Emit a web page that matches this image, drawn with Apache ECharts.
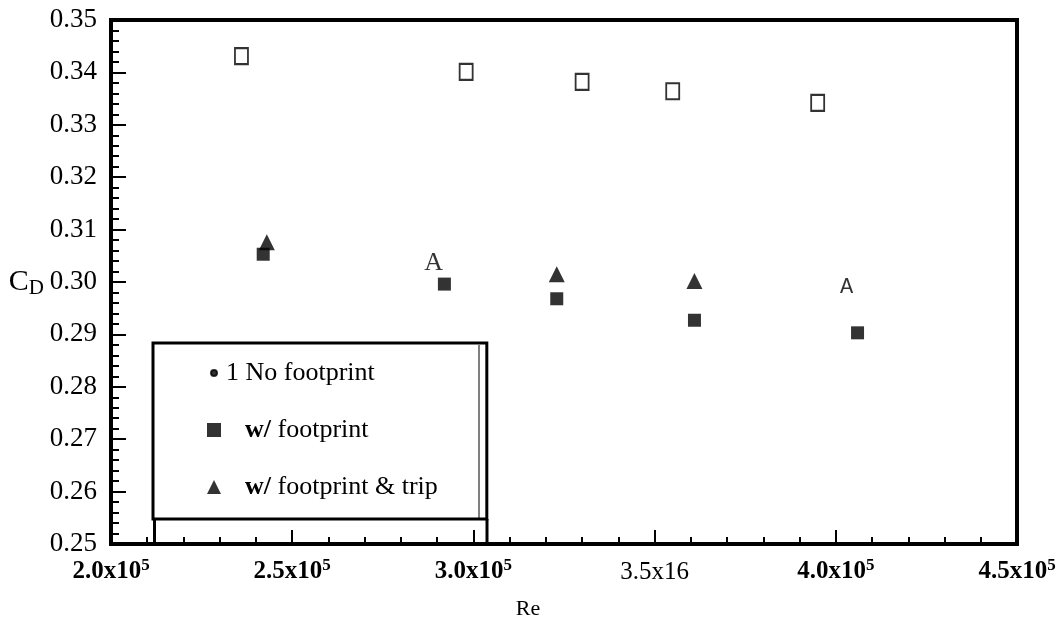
<!DOCTYPE html>
<html>
<head>
<meta charset="utf-8">
<script src="https://cdn.jsdelivr.net/npm/echarts@6/dist/echarts.min.js"></script>
<style>
  html, body { margin: 0; padding: 0; background: #fff; }
  #chart { width: 1060px; height: 641px; }
</style>
</head>
<body>
<div id="chart"></div>
<script>
const seriesNames = ['1 No footprint', 'w/ footprint', 'w/ footprint & trip']

// Re / C_D
const noFootRe = [2.36e5, 2.98e5, 3.30e5, 3.55e5, 3.95e5]
const noFootCd = [0.3431, 0.3401, 0.3382, 0.3364, 0.3342]
const footRe = [2.42e5, 2.92e5, 3.23e5, 3.61e5, 4.06e5]
const footCd = [0.3053, 0.2996, 0.2968, 0.2927, 0.2903]
const tripRe = [2.43e5, 2.89e5, 3.23e5, 3.61e5, 4.03e5]
const tripCd = [0.3076, 0.3036, 0.3015, 0.3002, 0.2990]
// two of the trip points came out of the scan as a letter "A"
const tripGlyph = ['', 'A', '', '', 'A']

const xTickText = ['2.0x10', '2.5x10', '3.0x10', '3.5x16', '4.0x10', '4.5x10']
const xTickSup = ['5', '5', '5', '', '5', '5']

const serif = 'Liberation Serif'

const chart = echarts.init(document.getElementById('chart'))

const option = {
  animation: false,
  backgroundColor: '#fff',
  grid: {
    left: 111, right: 43, top: 20, bottom: 97,
    show: true, borderColor: '#000', borderWidth: 4,
    containLabel: false, outerBoundsMode: 'none'
  },
  legend: {
    orient: 'vertical',
    left: 153, top: 343,
    padding: [16, 49, 18, 53],
    itemGap: 29,
    itemWidth: 14, itemHeight: 14,
    borderColor: '#000', borderWidth: 3,
    selectedMode: false,
    textStyle: {
      fontFamily: serif, fontSize: 26, color: '#000', lineHeight: 28,
      rich: {
        b: { fontFamily: serif, fontSize: 26, fontWeight: 'bold', color: '#000', lineHeight: 28, padding: [0, 0, 0, 19] },
        t: { fontFamily: serif, fontSize: 26, color: '#000', lineHeight: 28 }
      }
    },
    formatter: name => name.startsWith('w/ ') ? '{b|w/}{t|' + name.slice(2) + '}' : '{t|' + name + '}',
    data: [
      { name: seriesNames[0], icon: 'path://M0,0M14,14M4,7a3,3 0 1 0 6,0a3,3 0 1 0 -6,0Z' },
      { name: seriesNames[1], icon: 'rect' },
      { name: seriesNames[2], icon: 'triangle' }
    ]
  },
  xAxis: {
    type: 'value',
    min: 2.0e5, max: 4.5e5, interval: 0.5e5,
    name: 'Re',
    nameLocation: 'middle',
    nameGap: 54,
    nameTextStyle: { fontFamily: serif, fontSize: 22, color: '#000', padding: [0, 72, 0, 0] },
    axisLine: { lineStyle: { color: '#000', width: 4 } },
    axisTick: { inside: true, length: 14, lineStyle: { color: '#000', width: 2 } },
    minorTick: { show: true, splitNumber: 5, length: 7, lineStyle: { color: '#000', width: 2 } },
    splitLine: { show: false },
    axisLabel: {
      margin: 13,
      formatter: v => {
        const i = Math.round((v - 2.0e5) / 0.5e5)
        const style = xTickSup[i] ? 'b' : 'r'
        return '{' + style + '|' + xTickText[i] + '}' + (xTickSup[i] ? '{s|' + xTickSup[i] + '}' : '')
      },
      rich: {
        b: { fontFamily: serif, fontSize: 25, fontWeight: 'bold', color: '#000', lineHeight: 30 },
        r: { fontFamily: serif, fontSize: 25, color: '#000', lineHeight: 30 },
        s: { fontFamily: serif, fontSize: 17, fontWeight: 'bold', color: '#000', verticalAlign: 'top', lineHeight: 17 }
      }
    }
  },
  yAxis: {
    type: 'value',
    min: 0.25, max: 0.35, interval: 0.01,
    name: '{c|C}{d|D}',
    nameLocation: 'middle',
    nameRotate: 0,
    nameGap: 66,
    nameTextStyle: {
      rich: {
        c: { fontFamily: serif, fontSize: 30, color: '#000', lineHeight: 34 },
        d: { fontFamily: serif, fontSize: 21, color: '#000', verticalAlign: 'bottom', lineHeight: 21 }
      }
    },
    axisLine: { lineStyle: { color: '#000', width: 4 } },
    axisTick: { inside: true, length: 15, lineStyle: { color: '#000', width: 2 } },
    minorTick: { show: true, splitNumber: 5, length: 8, lineStyle: { color: '#000', width: 2 } },
    splitLine: { show: false },
    axisLabel: {
      margin: 14,
      fontFamily: serif, fontSize: 27, color: '#000',
      formatter: v => v.toFixed(2)
    }
  },
  graphic: [
    // legend frame runs on down to the axis, as in the scan
    { type: 'line', shape: { x1: 154.5, y1: 519, x2: 154.5, y2: 544 }, style: { stroke: '#000', lineWidth: 3 } },
    { type: 'line', shape: { x1: 487, y1: 519, x2: 487, y2: 544 }, style: { stroke: '#000', lineWidth: 3 } },
    { type: 'line', shape: { x1: 479, y1: 345, x2: 479, y2: 518 }, style: { stroke: '#000', lineWidth: 1 } }
  ],
  series: [
    {
      name: seriesNames[0],
      type: 'scatter',
      symbol: 'emptyRect',
      symbolSize: [13, 16],
      itemStyle: { color: '#000', borderColor: '#000', borderWidth: 2 },
      data: noFootRe.map((x, i) => [x, noFootCd[i]])
    },
    {
      name: seriesNames[2],
      type: 'scatter',
      symbol: 'triangle',
      symbolSize: 16,
      itemStyle: { color: '#000' },
      data: tripRe.map((x, i) => {
        if (!tripGlyph[i]) return [x, tripCd[i]]
        return {
          value: [x, tripCd[i]],
          symbolSize: 0,
          label: {
            show: true,
            position: 'inside',
            formatter: tripGlyph[i],
            color: '#000',
            fontSize: i === 1 ? 26 : 22,
            fontFamily: i === 1 ? serif : 'Liberation Mono'
          }
        }
      })
    },
    {
      name: seriesNames[1],
      type: 'scatter',
      symbol: 'rect',
      symbolSize: 13,
      itemStyle: { color: '#000' },
      data: footRe.map((x, i) => [x, footCd[i]])
    }
  ]
}

chart.setOption(option)
</script>
</body>
</html>
